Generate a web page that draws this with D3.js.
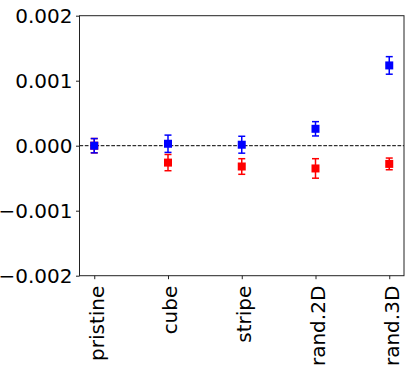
<!DOCTYPE html>
<html>
<head>
<meta charset="utf-8">
<script src="https://cdn.jsdelivr.net/npm/d3@7"></script>
<style>
html,body{margin:0;padding:0;background:#fff;}
svg{display:block;}
text{font-family:"DejaVu Sans",sans-serif;}
</style>
</head>
<body>
<script>
const categories = ["pristine","cube","stripe","rand.2D","rand.3D"];
const blueValues = [0.0, 0.00003, 0.000015, 0.00026, 0.001235];
const blueErrors = [0.00011, 0.000133, 0.00013, 0.00011, 0.000135];
const redValues = [0.0, -0.00026, -0.00032, -0.00035, -0.00028];
const redErrors = [0.00011, 0.000125, 0.00012, 0.00015, 0.00009];
const yTicks = [-0.002,-0.001,0,0.001,0.002];

const W=414,H=377;
const L=79.5,R=404,T=15.7,B=275.7;
const svg=d3.select("body").append("svg").attr("width",W).attr("height",H);

const x=d3.scaleLinear().domain([-0.2,categories.length-1+0.2]).range([L,R]);
const y=d3.scaleLinear().domain([-0.002,0.002]).range([B,T]);

// zero dashed line
svg.append("line").attr("x1",L).attr("x2",R).attr("y1",y(0)).attr("y2",y(0))
  .attr("stroke","#000").attr("stroke-width",1).attr("stroke-dasharray","3.7,1.6");

function series(vals,errs,color){
  const g=svg.append("g");
  vals.forEach((v,i)=>{
    const cx=x(i);
    g.append("line").attr("x1",cx).attr("x2",cx).attr("y1",y(v-errs[i])).attr("y2",y(v+errs[i]))
      .attr("stroke",color).attr("stroke-width",1.5);
    [v-errs[i],v+errs[i]].forEach(e=>{
      g.append("line").attr("x1",cx-3.5).attr("x2",cx+3.5).attr("y1",y(e)).attr("y2",y(e))
        .attr("stroke",color).attr("stroke-width",1.5);
    });
    g.append("rect").attr("x",cx-4).attr("y",y(v)-4).attr("width",8).attr("height",8).attr("fill",color);
  });
}
series(redValues,redErrors,"#ff0000");
series(blueValues,blueErrors,"#0000ff");

// frame
svg.append("rect").attr("x",L).attr("y",T).attr("width",R-L).attr("height",B-T)
  .attr("fill","none").attr("stroke","#222").attr("stroke-width",1);

const fmt=v=>(v<0?"\u2212":"")+Math.abs(v).toFixed(3);
const yAxis=d3.axisLeft(y).tickValues(yTicks).tickFormat(fmt).tickSize(3.5).tickPadding(3.5);
const ya=svg.append("g").attr("transform",`translate(${L},0)`).call(yAxis);
ya.select(".domain").remove();
ya.selectAll("text").attr("font-size",20).attr("font-family","DejaVu Sans").attr("fill","#000");
ya.selectAll(".tick line").attr("stroke","#222");

const xAxis=d3.axisBottom(x).tickValues(d3.range(categories.length)).tickFormat(i=>categories[i]).tickSize(3.5).tickPadding(3.5);
const xa=svg.append("g").attr("transform",`translate(0,${B})`).call(xAxis);
xa.select(".domain").remove();
xa.selectAll(".tick line").attr("stroke","#222");
xa.selectAll("text").attr("font-size",20).attr("font-family","DejaVu Sans").attr("fill","#000")
  .attr("transform","rotate(-90)").attr("text-anchor","end").attr("dy","0.44em")
  .attr("x",-10).attr("y",0);
</script>
</body>
</html>
